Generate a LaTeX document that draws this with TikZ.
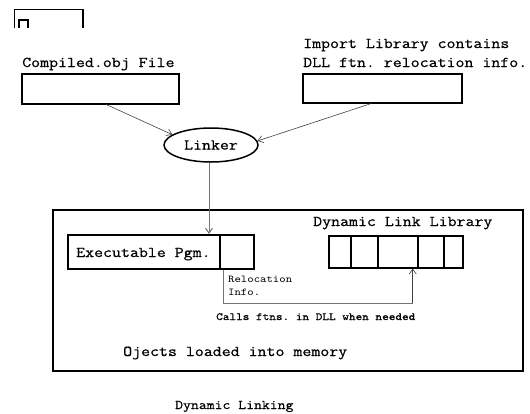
\documentclass[tikz,border=0pt]{standalone}
\usepackage{fontspec}
\setmonofont{Latin Modern Mono}[FakeStretch=1.16,FakeBold=0.7]
\newfontfamily\thinmono{Latin Modern Mono}[FakeStretch=1.16]
\usetikzlibrary{arrows.meta,shapes.geometric}
\begin{document}
\begin{tikzpicture}[x=1pt,y=-1pt,
  box/.style={draw,line width=1.5pt,inner sep=0pt,anchor=north west},
  lbl/.style={font=\ttfamily\fontsize{15}{17}\selectfont,inner sep=0pt,anchor=base west},
  small/.style={font=\thinmono\fontsize{10.5}{13}\selectfont,inner sep=0pt,anchor=base west},
  arr/.style={draw=black!75,line width=0.6pt,-{Straight Barb[length=5pt,width=7pt]}},
  garr/.style={draw=black!55,line width=1pt,-{Straight Barb[length=5pt,width=7pt]}},
  gline/.style={draw=black!55,line width=0.8pt}]
\useasboundingbox (0,0) rectangle (530,413);
% top-left fragment
\draw[line width=1.5pt] (14.5,28) -- (14.5,9.5) -- (83,9.5) -- (83,28);
\draw[line width=1.5pt] (19,28) -- (19,20) -- (28,20) -- (28,28);
% top boxes
\node[lbl] (tcobj) at (22,67) {Compiled.obj File};
\node[box,minimum width=157pt,minimum height=30pt] (cobj) at (21,73) {};
\node[lbl] (timp1) at (303,48) {Import Library contains};
\node[lbl] (timp2) at (303,67) {DLL ftn. relocation info.};
\node[box,minimum width=159pt,minimum height=29pt] (imp) at (302,73) {};
% linker
\node[draw,ellipse,line width=1.5pt,minimum width=94pt,minimum height=34pt,inner sep=0pt,
  font=\ttfamily\fontsize{15}{17}\selectfont] (linker) at (211,145) {Linker};
\draw[arr] ([xshift=6pt]cobj.south) -- (linker.165);
\draw[arr] ([xshift=-11pt]imp.south) -- (linker.5);
% memory box
\node[box,minimum width=470pt,minimum height=161pt] (mem) at (52,209) {};
\node[lbl] (tdll) at (313,226) {Dynamic Link Library};
\node[box,minimum width=152pt,minimum height=34pt] (exe) at (67,234) {};
\node[lbl] (texe) at (76,257) {Executable Pgm.};
\node[box,minimum width=34pt,minimum height=34pt] (rel) at (219,234) {};
\draw[garr] (linker.south -| rel.north west) ++(-10pt,0) coordinate (lk) -- (lk |- exe.north);
% DLL cells
\node[box,minimum width=22pt,minimum height=32pt] (d1) at (328,235) {};
\node[box,minimum width=27pt,minimum height=32pt] (d2) at (350,235) {};
\node[box,minimum width=40pt,minimum height=32pt] (d3) at (377,235) {};
\node[box,minimum width=26pt,minimum height=32pt] (d4) at (417,235) {};
\node[box,minimum width=19pt,minimum height=32pt] (d5) at (443,235) {};
% relocation path
\coordinate (rs) at ([xshift=4pt]rel.south west);
\coordinate (rc) at ([xshift=15pt]d3.south);
\draw[gline] (rs) -- (rs |- 0,303) -- (rc |- 0,303);
\draw[arr] (rc |- 0,303) -- (rc);
\node[small] (trel1) at (228,282) {Relocation};
\node[small] (trel2) at (228,295) {Info.};
\node[small,font=\ttfamily\bfseries\fontsize{10.9}{13}\selectfont] (tcalls) at (216,320) {Calls ftns. in DLL when needed};
\node[lbl] (tmem) at (123,356) {Ojects loaded into memory};
\node[lbl,font=\ttfamily\fontsize{13.2}{16}\selectfont] (ttitle) at (175,409) {Dynamic Linking};
\end{tikzpicture}
\end{document}
